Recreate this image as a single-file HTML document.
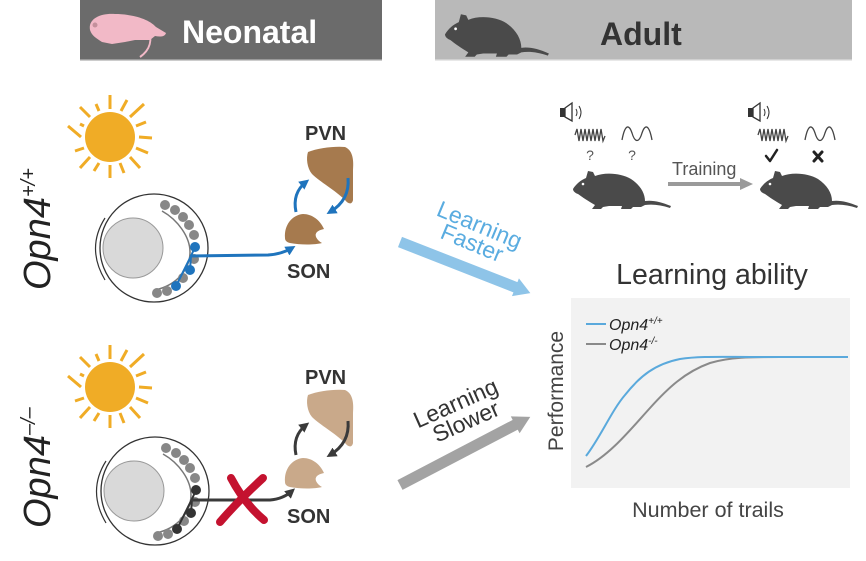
<!DOCTYPE html>
<html><head><meta charset="utf-8"><style>
html,body{margin:0;padding:0;background:#fff;}
svg{display:block;}
text{font-family:"Liberation Sans",Arial,sans-serif;}
</style></head><body>
<svg width="866" height="561" viewBox="0 0 866 561" xmlns="http://www.w3.org/2000/svg">
<defs>
<marker id="mb" viewBox="0 0 10 10" refX="6" refY="5" markerWidth="10" markerHeight="10" markerUnits="userSpaceOnUse" orient="auto"><path d="M0,0 L10,5 L0,10 z" fill="#1f74bd"/></marker>
<marker id="md" viewBox="0 0 10 10" refX="6" refY="5" markerWidth="10" markerHeight="10" markerUnits="userSpaceOnUse" orient="auto"><path d="M0,0 L10,5 L0,10 z" fill="#3a3a3a"/></marker>
<g id="mouse">
<path d="M0,20 C3,15 8,11 13,9 L15,2 L20,3 L22,7 C32,3 48,4 58,10 C67,16 72,24 72,32 C80,31 88,33 98,37 L97,39 C88,36 80,35 72,36 L68,38 L60,38 L58,40 L48,40 L49,37 L36,37 L30,38 L28,40 L19,40 L22,36 C15,32 9,28 5,25 C2,24 0,22 0,20 Z" fill="#4a4a4a"/>
<circle cx="10" cy="15" r="1.3" fill="#fff"/>
</g>
</defs>

<!-- Headers -->
<rect x="80" y="0" width="302" height="60" fill="#6b6b6b"/>
<rect x="80" y="59" width="302" height="1.5" fill="#9a9a9a"/>
<rect x="435" y="0" width="417" height="60" fill="#b9b9b9"/>
<rect x="435" y="59" width="417" height="1.5" fill="#d0d0d0"/>
<!-- pup -->
<path d="M90,30 C88,19 100,13 115,14 C130,14 148,18 156,27 L166,33 C165,37 160,37 155,36 L150,40 L135,40 L125,42 L112,44 L102,42 C96,38 92,36 90,30 Z" fill="#f2b9c7"/>
<circle cx="95" cy="25" r="2.5" fill="#c4909c"/>
<path d="M148,28 C153,40 150,50 140,57" stroke="#f2b9c7" stroke-width="2" fill="none"/>
<text x="182" y="43" font-size="32" font-weight="bold" fill="#fff">Neonatal</text>
<use href="#mouse" transform="translate(445,12) scale(1.06,1.12)"/>
<text x="600" y="45" font-size="32" font-weight="bold" fill="#333">Adult</text>

<!-- Suns -->
<g id="sun1" stroke="#f0ac26" stroke-width="3" stroke-linecap="butt">
<circle cx="110" cy="137" r="25" fill="#f0ac26" stroke="none"/>
<line x1="110" y1="109" x2="110" y2="95"/>
<line x1="121" y1="111" x2="127" y2="100"/>
<line x1="130" y1="117" x2="144" y2="104"/>
<line x1="136" y1="126" x2="146" y2="122"/>
<line x1="139" y1="137" x2="152" y2="138"/>
<line x1="136" y1="148" x2="148" y2="153"/>
<line x1="130" y1="157" x2="140" y2="168"/>
<line x1="120" y1="163" x2="124" y2="173"/>
<line x1="110" y1="165" x2="110" y2="178"/>
<line x1="99" y1="163" x2="94" y2="171"/>
<line x1="90" y1="157" x2="80" y2="168"/>
<line x1="84" y1="148" x2="75" y2="151"/>
<line x1="81" y1="137" x2="68" y2="126"/>
<line x1="84" y1="126" x2="80" y2="124"/>
<line x1="90" y1="117" x2="80" y2="107"/>
<line x1="99" y1="111" x2="96" y2="104"/>
</g>
<use href="#sun1" transform="translate(0,250)"/>

<!-- Genotype labels -->
<text transform="translate(50,290) rotate(-90)" font-size="38" font-style="italic" fill="#222">Opn4<tspan dy="-15" font-size="20">+/+</tspan></text>
<text transform="translate(50,528) rotate(-90)" font-size="38" font-style="italic" fill="#222">Opn4<tspan dy="-15" font-size="20">–/–</tspan></text>

<!-- Eye 1 -->
<g id="eyebase">
<path d="M105,218 Q86,248 105,280" stroke="#333" stroke-width="1.2" fill="#fff"/>
<circle cx="154" cy="248" r="54" fill="#fff" stroke="#333" stroke-width="1.3"/>
<circle cx="133" cy="248" r="30" fill="#d9d9d9" stroke="#999" stroke-width="1"/>
<path d="M162,211 C178,220 190,237 190,252 C190,268 178,285 155,290" stroke="#777" stroke-width="1.5" fill="none"/>
<g fill="#878787">
<circle cx="165" cy="205" r="5"/><circle cx="175" cy="210" r="5"/><circle cx="183" cy="217" r="5"/><circle cx="189" cy="225" r="5"/><circle cx="194" cy="235" r="5"/><circle cx="194" cy="259" r="5"/><circle cx="183" cy="278" r="5"/><circle cx="167" cy="291" r="5"/><circle cx="157" cy="293" r="5"/>
</g>
</g>
<g stroke="#1f74bd" stroke-width="2" fill="none">
<path d="M191,256 L195,247 M191,256 L190,270 M191,256 L176,286"/>
</g>
<g fill="#1f74bd"><circle cx="195" cy="247" r="5"/><circle cx="190" cy="270" r="5"/><circle cx="176" cy="286" r="5"/></g>
<path d="M190,256 L268,255 Q282,254 292,248" stroke="#1f74bd" stroke-width="3" fill="none" marker-end="url(#mb)"/>

<!-- Eye 2 -->
<use href="#eyebase" transform="translate(1,243)"/>
<g stroke="#333" stroke-width="2" fill="none">
<path d="M192,499 L196,490 M192,499 L191,513 M192,499 L177,529"/>
</g>
<g fill="#333"><circle cx="196" cy="490" r="5"/><circle cx="191" cy="513" r="5"/><circle cx="177" cy="529" r="5"/></g>
<path d="M191,500 L270,500 Q283,499 292,491" stroke="#3a3a3a" stroke-width="3" fill="none" marker-end="url(#md)"/>
<g stroke="#c4122f" stroke-width="8" stroke-linecap="round" fill="none">
<path d="M231,478 C240,495 252,510 264,520"/>
<path d="M263,478 C250,490 232,508 220,522"/>
</g>

<!-- PVN / SON top -->
<text x="305" y="140" font-size="20" font-weight="bold" fill="#333">PVN</text>
<path d="M308,152 C318,148 335,146 345,147 C352,150 354,158 353,170 L353,200 C352,205 348,204 345,200 C335,190 320,182 312,174 C307,168 306,158 308,152 Z" fill="#a67a4e"/>
<path d="M285,238 C284,225 292,215 303,214 C312,214 320,220 324,229 Q314,231 316,237 Q318,241 322,243 C315,245 300,245 290,243 C286,242 285,240 285,238 Z" fill="#a67a4e"/>
<text x="287" y="278" font-size="20" font-weight="bold" fill="#333">SON</text>
<path d="M296,212 Q292,193 306,182" stroke="#1f74bd" stroke-width="3" fill="none" marker-end="url(#mb)"/>
<path d="M348,178 Q350,200 330,212" stroke="#1f74bd" stroke-width="3" fill="none" marker-end="url(#mb)"/>

<!-- PVN / SON bottom -->
<text x="305" y="384" font-size="20" font-weight="bold" fill="#333">PVN</text>
<path d="M308,395 C318,391 335,389 345,390 C352,393 354,401 353,413 L353,443 C352,448 348,447 345,443 C335,433 320,425 312,417 C307,411 306,401 308,395 Z" fill="#c9a98a"/>
<path d="M285,482 C284,469 292,459 303,458 C312,458 320,464 324,473 Q314,475 316,481 Q318,485 322,487 C315,489 300,489 290,487 C286,486 285,484 285,482 Z" fill="#c9a98a"/>
<text x="287" y="523" font-size="20" font-weight="bold" fill="#333">SON</text>
<path d="M296,455 Q292,436 306,425" stroke="#3a3a3a" stroke-width="3" fill="none" marker-end="url(#md)"/>
<path d="M348,421 Q350,443 330,455" stroke="#3a3a3a" stroke-width="3" fill="none" marker-end="url(#md)"/>

<!-- Middle arrows -->
<g transform="translate(400,242) rotate(21.4)">
<rect x="0" y="-5.5" width="126" height="11" fill="#8ec4e8"/>
<path d="M124,-9.5 L140,0 L124,9.5 Z" fill="#8ec4e8"/>
</g>
<g transform="translate(476,233.5) rotate(22.5)" fill="#5aace0" font-size="23" text-anchor="middle">
<text x="0" y="-1.5">Learning</text>
<text x="0" y="18">Faster</text>
</g>
<g transform="translate(400,485) rotate(-27.6)">
<rect x="0" y="-5.5" width="132" height="11" fill="#a3a3a3"/>
<path d="M130,-9.5 L147,0 L130,9.5 Z" fill="#a3a3a3"/>
</g>
<g transform="translate(460,413) rotate(-24)" fill="#333" font-size="23" text-anchor="middle">
<text x="0" y="-3">Learning</text>
<text x="2" y="18">Slower</text>
</g>

<!-- Training panel -->
<g id="spk">
<rect x="560" y="108" width="5" height="9" fill="#333"/>
<path d="M565,108 L572,103 L572,121 L565,117 Z" fill="#fff" stroke="#333" stroke-width="1.3"/>
<path d="M576,109 Q578,112.5 576,116 M579,106 Q583,112.5 579,119" stroke="#333" stroke-width="1" fill="none"/>
</g>
<use href="#spk" transform="translate(188,0)"/>
<g id="waves" stroke="#444" stroke-width="1.3" fill="none">
<polyline points="575,135 577,129 579,141 581,129 583,141 585,129 587,141 589,129 591,141 593,129 595,141 597,129 599,141 601,129 603,141 605,136"/>
<path d="M622,140 C625,124 629,124 632,133 C635,143 639,143 642,133 C645,124 649,124 652,140"/>
</g>
<use href="#waves" transform="translate(183,0)"/>
<text x="590" y="160" font-size="14" fill="#555" text-anchor="middle">?</text>
<text x="632" y="160" font-size="14" fill="#555" text-anchor="middle">?</text>
<path d="M766,156 L770,161 L777,150" stroke="#222" stroke-width="2.5" fill="none" stroke-linecap="round" stroke-linejoin="round"/>
<path d="M814,152 L822,161 M822,152 L814,161" stroke="#222" stroke-width="3" fill="none" stroke-linecap="round"/>
<use href="#mouse" transform="translate(573,169)"/>
<use href="#mouse" transform="translate(760,169)"/>
<text x="672" y="175" font-size="18" fill="#555">Training</text>
<line x1="668" y1="184" x2="742" y2="184" stroke="#9a9a9a" stroke-width="4"/>
<path d="M740,178 L753,184 L740,190 Z" fill="#9a9a9a"/>

<!-- Learning ability chart -->
<text x="712" y="284" font-size="28.5" fill="#333" text-anchor="middle">Learning ability</text>
<rect x="571" y="298" width="279" height="190" fill="#f2f2f2"/>
<line x1="586" y1="324" x2="606" y2="324" stroke="#5aa9dc" stroke-width="2"/>
<text x="609" y="330" font-size="16" font-style="italic" fill="#222">Opn4<tspan dy="-6" font-size="10">+/+</tspan></text>
<line x1="586" y1="344" x2="606" y2="344" stroke="#8a8a8a" stroke-width="2"/>
<text x="609" y="350" font-size="16" font-style="italic" fill="#222">Opn4<tspan dy="-6" font-size="10">-/-</tspan></text>
<path d="M586,467 C610,455 630,430 650,408 C668,388 685,372 710,363 C730,357 750,357 780,357 L848,357" stroke="#8a8a8a" stroke-width="2" fill="none"/>
<path d="M586,456 C600,438 612,410 625,395 C640,376 655,364 680,359 C700,356 720,357 760,357 L848,357" stroke="#5aa9dc" stroke-width="2" fill="none"/>
<text transform="translate(563,391) rotate(-90)" font-size="21" fill="#444" text-anchor="middle">Performance</text>
<text x="708" y="517" font-size="21.5" fill="#444" text-anchor="middle">Number of trails</text>
</svg>
</body></html>
